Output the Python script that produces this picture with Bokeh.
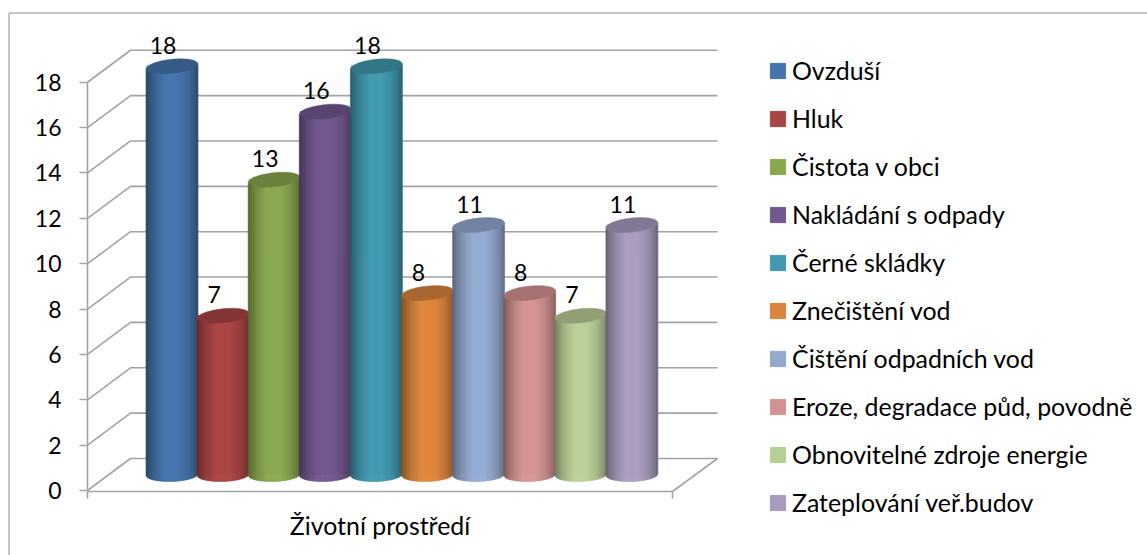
import numpy as np
from bokeh.plotting import figure
from bokeh.embed import file_html
from bokeh.resources import INLINE
from bokeh.core.properties import value
from bokeh.models import Range1d, LinearAxis, FixedTicker, Legend, LegendItem

categories = ["Ovzduší", "Hluk", "Čistota v obci", "Nakládání s odpady", "Černé skládky",
              "Znečištění vod", "Čištění odpadních vod", "Eroze, degradace půd, povodně",
              "Obnovitelné zdroje energie", "Zateplování veř.budov"]
values = [18, 7, 13, 16, 18, 8, 11, 8, 7, 11]
colors = ["#4675ac", "#a84644", "#8aa74f", "#71588f", "#4298af",
          "#db843d", "#93a9cf", "#d19392", "#b9cd96", "#a99bbd"]
y_ticks = [0, 2, 4, 6, 8, 10, 12, 14, 16, 18]
axis_title = "Životní prostředí"

FONT = "Lato"
TXT = "24.9px"
NUM = "23px"
U = 22.68            # pixels per value unit
Y0 = 490.0           # y of value 0, in reference pixels
W, H = 1147, 555
def v(sy):
    return (Y0 - sy) / U

p = figure(width=W, height=H, output_backend="svg", toolbar_location=None,
           x_range=Range1d(0, W), y_range=Range1d(v(H), v(0)),
           x_axis_location=None, y_axis_location=None, min_border=0,
           outline_line_color=None, background_fill_color="white", border_fill_color="white")
p.grid.visible = False

# outer frame
p.line([8.5, 8.5, W], [v(H), v(12.5), v(12.5)], line_color="#8c8c8c", line_width=1)

# walls
GRID = "#a3a3a3"
DX, DY = 43.0, 32.0
WALL_R = 717.0
xs_g, ys_g = [], []
for t in y_ticks:
    xs_g.append([87, 87 + DX, WALL_R])
    ys_g.append([t, t + DY / U, t + DY / U])
xs_g.append([672, WALL_R])
ys_g.append([-1 / U, DY / U])
p.multi_line(xs_g, ys_g, line_color=GRID, line_width=1.6)

yax = LinearAxis(fixed_location=87, ticker=FixedTicker(ticks=y_ticks), bounds=(0, 18),
                 axis_line_color=GRID, axis_line_width=1.6,
                 major_tick_line_color=GRID, major_tick_line_width=1.6,
                 major_tick_out=8, major_tick_in=0, minor_tick_out=0, minor_tick_in=0,
                 major_label_standoff=18, major_label_text_font=FONT,
                 major_label_text_font_size=NUM, major_label_text_color="#000000")
p.add_layout(yax, "left")

xax = LinearAxis(fixed_location=-1 / U, ticker=FixedTicker(ticks=[87, 672]), bounds=(87, 672),
                 axis_line_color=GRID, axis_line_width=1.6,
                 major_tick_line_color=GRID, major_tick_line_width=1.6,
                 major_tick_out=7, major_tick_in=0, minor_tick_out=0, minor_tick_in=0,
                 major_label_overrides={87: " ", 672: " "}, major_label_text_font_size="1px",
                 axis_label=axis_title, axis_label_standoff=2, axis_label_text_font=FONT,
                 axis_label_text_font_style="normal", axis_label_text_font_size=TXT,
                 axis_label_text_color="#000000")
p.add_layout(xax, "below")

# cylinders
X0, PITCH, RX, RY = 171.5, 51.1, 26.0, 7.0
V0 = v(474)
CAP_TILT = 2.5
STOPS_T = [0, 0.05, 0.18, 0.38, 0.62, 0.82, 0.95, 1]
STOPS_M = [0.60, 0.68, 0.86, 1.02, 1.02, 0.90, 0.74, 0.64]
N = 26

def shade(col, m):
    r, g, b = int(col[1:3], 16), int(col[3:5], 16), int(col[5:7], 16)
    return "#%02x%02x%02x" % (min(255, int(r * m)), min(255, int(g * m)), min(255, int(b * m)))

items = []
edges = np.linspace(-1, 1, N + 1)
for i, (name, val, col) in enumerate(zip(categories, values, colors)):
    cx = X0 + i * PITCH
    base = p.vbar(x=[cx], top=[val + V0], bottom=[V0], width=2 * RX - 2, fill_color=col, line_color=col)
    items.append(LegendItem(label=name, renderers=[base]))
    sx, sy, fc = [], [], []
    for a, b in zip(edges[:-1], edges[1:]):
        ts = np.linspace(a, b, 4)
        arc = np.sqrt(np.maximum(0, 1 - ts ** 2))
        top = val + V0 - (RY * arc - CAP_TILT * ts) / U
        bot = V0 - (RY * arc - 0.8 * ts) / U
        sx.append(list(cx + RX * ts) + list(cx + RX * ts[::-1]))
        sy.append(list(top) + list(bot[::-1]))
        fc.append(shade(col, float(np.interp((a + b + 2) / 4, STOPS_T, STOPS_M))))
    p.patches(sx, sy, fill_color=fc, line_color=fc, line_width=0.6)
    th = np.linspace(0, 2 * np.pi, 60)
    cap_x = cx + (RX - 0.3) * np.cos(th)
    cap_y = val + V0 - (RY * np.sin(th) - CAP_TILT * np.cos(th)) / U
    p.patch(cap_x, cap_y, fill_color=shade(col, 0.78), line_color=shade(col, 0.78), line_width=0.5)

# data labels
p.text([X0 + i * PITCH - 9 for i in range(len(values))], [val + V0 + 21 / U for val in values],
       text=[str(val) for val in values], text_font=value(FONT), text_font_size=NUM,
       text_color="#000000", text_align="center", text_baseline="middle")

legend = Legend(items=items, location=(768, 38), orientation="vertical", margin=0, padding=0,
                border_line_color=None, background_fill_alpha=0, glyph_width=19, glyph_height=19,
                label_standoff=5, spacing=18, label_height=19, label_text_font=FONT,
                label_text_font_size=TXT, label_text_color="#000000",
                label_text_baseline="middle")
p.add_layout(legend, "center")

open("out.html", "w").write(file_html(p, INLINE))
